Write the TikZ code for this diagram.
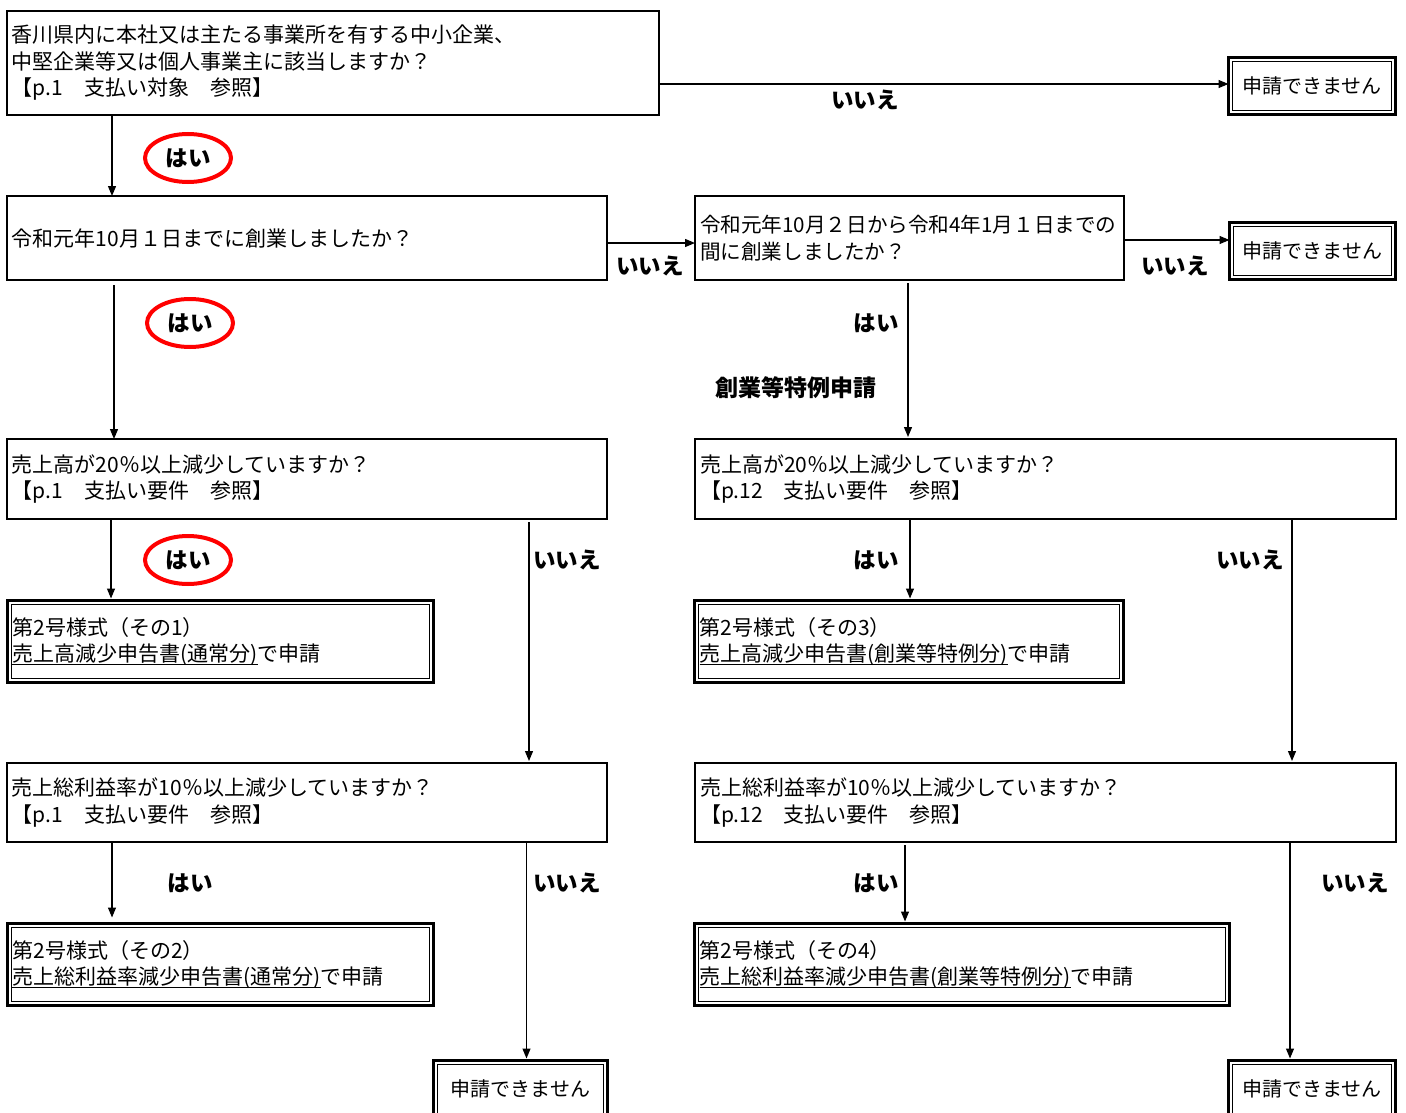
\documentclass[tikz,border=0pt]{standalone}
\usepackage{fontspec}
\setmainfont{Noto Sans CJK JP}
\usetikzlibrary{arrows.meta,shapes.geometric,calc}
\newcommand{\boxfont}{\fontsize{21pt}{26.5pt}\selectfont}
\newcommand{\labfont}{\fontsize{22.5pt}{24pt}\selectfont\bfseries}
\newcommand{\innerframe}[1]{\draw[line width=1.3pt] ($(#1.north west)+(4,4)$) rectangle ($(#1.south east)+(-4,-4)$);}
\newcommand{\ulx}[1]{\leavevmode\setbox0\hbox{#1}\rlap{\rule[-3.5pt]{\wd0}{1.5pt}}\box0}
\begin{document}
\begin{tikzpicture}[x=1pt,y=-1pt,
  qbox/.style n args={2}{draw, line width=1.8pt, rectangle, anchor=north west, outer sep=0pt,
     inner xsep=5pt, inner ysep=0pt, align=left, font=\boxfont,
     minimum width=#1pt, minimum height=#2pt, text width={#1pt-10pt}},
  dbox/.style n args={2}{draw, line width=3pt, rectangle, anchor=north west, outer sep=0pt,
     inner xsep=5pt, inner ysep=0pt, align=left, font=\boxfont,
     minimum width=#1pt, minimum height=#2pt, text width={#1pt-10pt}},
  nbox/.style n args={2}{draw, line width=3pt, rectangle, anchor=north west, outer sep=0pt,
     inner sep=0pt, align=center, font=\fontsize{20pt}{24pt}\selectfont,
     minimum width=#1pt, minimum height=#2pt},
  lab/.style={font=\labfont, inner sep=0pt},
  yes/.style={ellipse, draw=red, line width=4pt, minimum width=86pt, minimum height=48pt,
     inner sep=0pt, font=\labfont},
  arr/.style={line width=1.2pt, -{Triangle[length=10pt,width=8pt]}}
]
\useasboundingbox (0,0) rectangle (1406,1113);
\fill[white] (0,0) rectangle (1406,1113);
\begin{scope}
\clip (0,0) rectangle (1406,1113);
% nodes
\node[qbox={652}{104}] (A) at (7,11) {香川県内に本社又は主たる事業所を有する中小企業、\\中堅企業等又は個人事業主に該当しますか？\\【p.1　支払い対象　参照】};
\node[nbox={167}{57}] (N1) at (1228.5,57.5) {申請できません};
\node[qbox={600}{84}] (B) at (7,196) {令和元年10月１日までに創業しましたか？};
\node[qbox={429}{84}] (C) at (695,196) {\fontsize{20.6pt}{26.5pt}\selectfont 令和元年10月２日から令和4年1月１日までの\\間に創業しましたか？};
\node[nbox={166}{57}] (N2) at (1229.5,222.5) {申請できません};
\node[qbox={600}{80}] (D) at (7,439) {売上高が20％以上減少していますか？\\【p.1　支払い要件　参照】};
\node[qbox={701}{80}] (E) at (695,439) {売上高が20％以上減少していますか？\\【p.12　支払い要件　参照】};
\node[dbox={426}{82}] (F) at (7.5,600.5) {第2号様式（その1）\\\ulx{売上高減少申告書(通常分)}で申請};
\node[dbox={429}{82}] (G) at (694.5,600.5) {第2号様式（その3）\\\ulx{売上高減少申告書(創業等特例分)}で申請};
\node[qbox={600}{79}] (H) at (7,763) {売上総利益率が10％以上減少していますか？\\【p.1　支払い要件　参照】};
\node[qbox={701}{79}] (I) at (695,763) {売上総利益率が10％以上減少していますか？\\【p.12　支払い要件　参照】};
\node[dbox={426}{82}] (J) at (7.5,923.5) {第2号様式（その2）\\\ulx{売上総利益率減少申告書(通常分)}で申請};
\node[dbox={535}{82}] (K) at (694.5,923.5) {第2号様式（その4）\\\ulx{売上総利益率減少申告書(創業等特例分)}で申請};
\node[nbox={174}{57}] (N3) at (433.5,1060.5) {申請できません};
\node[nbox={167}{57}] (N4) at (1228.5,1060.5) {申請できません};
\innerframe{N1}
\innerframe{N2}
\innerframe{F}
\innerframe{G}
\innerframe{J}
\innerframe{K}
\innerframe{N3}
\innerframe{N4}
% connectors
\draw[arr] (A.east |- 0,84) -- (N1.west |- 0,84);
\draw[arr] (A.south -| 112,0) -- (B.north -| 112,0);
\draw[arr] (B.east |- 0,243) -- (C.west |- 0,243);
\draw[arr] (C.east |- 0,240) -- (N2.west |- 0,240);
\draw[arr] ($(B.south -| 114,0)+(0,5)$) -- (D.north -| 114,0);
\draw[arr] ($(C.south -| 908,0)+(0,3)$) -- ($(E.north -| 908,0)+(0,-2)$);
\draw[arr] (D.south -| 111,0) -- ($(F.north -| 111,0)+(0,-2)$);
\draw[arr] ($(D.south -| 529,0)+(0,3)$) -- ($(H.north -| 529,0)+(0,-2)$);
\draw[arr] (E.south -| 910,0) -- ($(G.north -| 910,0)+(0,-2)$);
\draw[arr] (E.south -| 1292,0) -- ($(I.north -| 1292,0)+(0,-2)$);
\draw[arr] (H.south -| 112,0) -- ($(J.north -| 112,0)+(0,-6)$);
\draw[arr] (H.south -| 526.5,0) -- ($(N3.north -| 526.5,0)+(0,-2)$);
\draw[arr] ($(I.south -| 905,0)+(0,3)$) -- ($(K.north -| 905,0)+(0,-2)$);
\draw[arr] (I.south -| 1290,0) -- ($(N4.north -| 1290,0)+(0,-2)$);
% labels
\node[lab] (l1) at (865,100) {いいえ};
\node[yes] (y1) at (188,158) {はい};
\node[lab] (l2) at (650,266) {いいえ};
\node[lab] (l3) at (1175,266) {いいえ};
\node[yes] (y2) at (190,323) {はい};
\node[lab] (l4) at (876,323) {はい};
\node[lab, font=\fontsize{23pt}{24pt}\selectfont\bfseries] (l5) at (796,388) {創業等特例申請};
\node[yes] (y3) at (188,560) {はい};
\node[lab] (l6) at (567,560) {いいえ};
\node[lab] (l7) at (876,560) {はい};
\node[lab] (l8) at (1250,560) {いいえ};
\node[lab] (l9) at (190,883) {はい};
\node[lab] (l10) at (567,883) {いいえ};
\node[lab] (l11) at (876,883) {はい};
\node[lab] (l12) at (1355,883) {いいえ};
\end{scope}
\end{tikzpicture}
\end{document}
